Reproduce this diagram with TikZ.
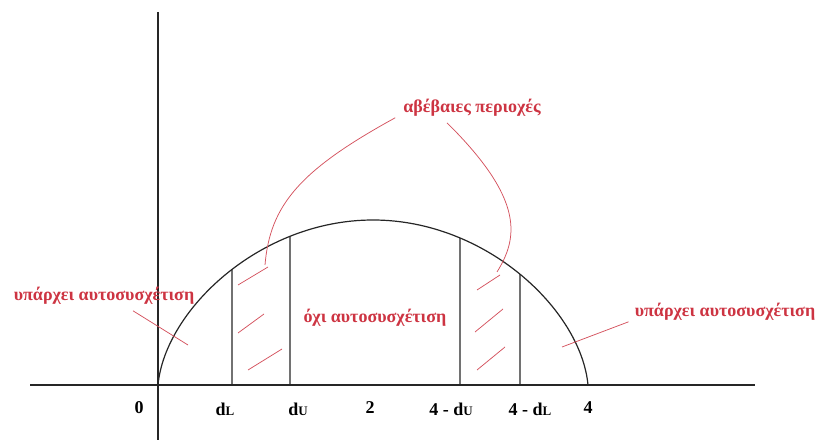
\documentclass[tikz,border=0pt]{standalone}
\usepackage{fontspec}
\setmainfont{Liberation Serif}
\usetikzlibrary{intersections,positioning}
\definecolor{notered}{RGB}{205,52,66}

\begin{document}
\begin{tikzpicture}[x=1pt,y=-1pt,
  axisline/.style={line width=1.2pt, black!85},
  lbl/.style={text=notered, inner sep=0pt, font=\bfseries\fontsize{18}{18}\selectfont},
  ticklbl/.style={inner sep=0pt, font=\bfseries\fontsize{18}{18}\selectfont},
  leader/.style={notered!85, line width=0.75pt}]
\useasboundingbox (0,0) rectangle (819,446);

% axes
\draw[axisline] (30,385) -- (755,385);
\draw[axisline] (158,12) -- (158,440);

% the dome
\draw[axisline, name path=dome] (158,385) .. controls (165,310) and (260,220) .. (373,220)
  .. controls (486,220) and (581,310) .. (588,385);
\foreach \xv in {232,290,460,520} {
  \path[name path=vl] (\xv,386) -- (\xv,150);
  \draw[axisline, name intersections={of=dome and vl}] (\xv,385) -- (intersection-1);
}

% hatching in the uncertain regions
\foreach \ax/\ay/\bx/\by in {238/285/268/267, 238/333/264/314, 248/370/282/349,
                             477/290/500/275, 475/332/503/309, 477/370/505/347} {
  \draw[leader] (\ax,\ay) -- (\bx,\by);
}

% tick labels
\node[ticklbl] (t0)   at (139,408) {0};
\node[ticklbl] (tdL)  at (225,409) {d{\fontsize{13}{13}\selectfont L}};
\node[ticklbl] (tdU)  at (298,409) {d{\fontsize{13}{13}\selectfont U}};
\node[ticklbl] (t2)   at (370,408) {2};
\node[ticklbl] (t4dU) at (451,409) {4 - d{\fontsize{13}{13}\selectfont U}};
\node[ticklbl] (t4dL) at (530,409) {4 - d{\fontsize{13}{13}\selectfont L}};
\node[ticklbl] (t4)   at (588,408) {4};

% region labels
\node[lbl] (lblLeft)   at (104,296) {υπάρχει αυτοσυσχέτιση};
\node[lbl] (lblMid)    at (375,318) {όχι αυτοσυσχέτιση};
\node[lbl] (lblRight)  at (725,312) {υπάρχει αυτοσυσχέτιση};
\node[lbl] (lblUnsure) at (472,108) {αβέβαιες περιοχές};

\coordinate (inLeft)   at (188,345);
\coordinate (inRight)  at (562,347);
\coordinate (inUnsL)   at (265,265);
\coordinate (inUnsR)   at (497,272);

\draw[leader] ([xshift=29pt,yshift=-6pt]lblLeft.south) -- (inLeft);
\draw[leader] ([xshift=-6pt,yshift=-1pt]lblRight.south west) -- (inRight);
\draw[leader] ([xshift=-8pt,yshift=-1pt]lblUnsure.south west)
  .. controls (300,170) and (270,205) .. (inUnsL);
\draw[leader] ([xshift=-25pt,yshift=-6pt]lblUnsure.south)
  .. controls (525,200) and (518,238) .. (inUnsR);
\end{tikzpicture}
\end{document}
